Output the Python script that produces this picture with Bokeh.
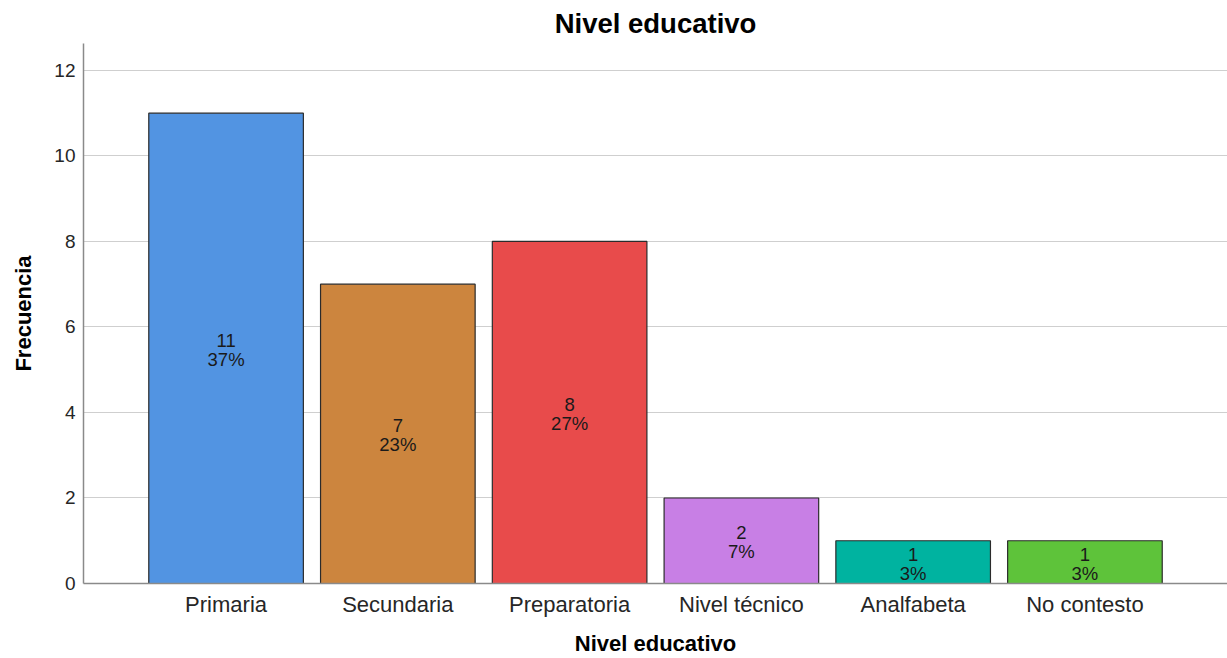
from bokeh.plotting import figure
from bokeh.models import ColumnDataSource, FactorRange, Range1d, FixedTicker
from bokeh.core.properties import value
from bokeh.embed import file_html
from bokeh.resources import INLINE

# Frequency of each education level
categories = ["Primaria", "Secundaria", "Preparatoria", "Nivel técnico", "Analfabeta", "No contesto"]
counts = [11, 7, 8, 2, 1, 1]
colors = ["#5294e2", "#cc853e", "#e84b4b", "#c87fe5", "#00b3a0", "#5ec33a"]
y_ticks = [0, 2, 4, 6, 8, 10, 12]

total = sum(counts)
pct_labels = [f"{round(100 * c / total)}%" for c in counts]
count_labels = [str(c) for c in counts]

source = ColumnDataSource(dict(
    cat=categories,
    count=counts,
    mid=[c / 2 for c in counts],
    color=colors,
    count_label=count_labels,
    pct_label=pct_labels,
))

FONT = "Liberation Sans"

p = figure(
    width=1227, height=658,
    x_range=FactorRange(factors=categories, range_padding=0.11),
    y_range=Range1d(0, 12.63),
    output_backend="svg", toolbar_location=None,
    title="Nivel educativo",
    min_border_left=83, min_border_right=0, min_border_top=42, min_border_bottom=74,
)

p.vbar(x="cat", top="count", bottom=0, width=0.9, source=source,
       fill_color="color", line_color="#2b2b2b", line_width=1.2)

# two-line value labels centred in each bar: count above, share below
p.text(x="cat", y="mid", text="count_label", source=source,
       text_align="center", text_baseline="middle", y_offset=-8,
       text_font=value(FONT), text_font_size="18.5px", text_color="#1a1a1a")
p.text(x="cat", y="mid", text="pct_label", source=source,
       text_align="center", text_baseline="middle", y_offset=11,
       text_font=value(FONT), text_font_size="18.5px", text_color="#1a1a1a")

p.title.align = "center"
p.title.text_font = FONT
p.title.text_font_size = "27.5px"
p.title.text_font_style = "bold"
p.title.text_color = "#000000"

p.outline_line_color = None
p.background_fill_color = "white"
p.border_fill_color = "white"

p.xgrid.grid_line_color = None
p.ygrid.grid_line_color = "#cfcfcf"
p.ygrid.grid_line_width = 1.2

p.yaxis.ticker = FixedTicker(ticks=y_ticks)
p.yaxis.axis_label = "Frecuencia"
p.xaxis.axis_label = "Nivel educativo"

for ax in (p.xaxis, p.yaxis):
    ax.axis_line_color = "#8a8a8a"
    ax.axis_line_width = 1.5
    ax.major_tick_line_color = None
    ax.minor_tick_line_color = None
    ax.major_tick_out = 0
    ax.major_tick_in = 0
    ax.major_label_standoff = 8
    ax.major_label_text_font = FONT
    ax.major_label_text_color = "#262626"
    ax.axis_label_text_font = FONT
    ax.axis_label_text_font_style = "bold"
    ax.axis_label_text_color = "#000000"

p.yaxis.major_label_text_font_size = "19px"
p.yaxis.axis_label_text_font_size = "22px"
p.yaxis.axis_label_standoff = 15
p.xaxis.major_label_text_font_size = "22px"
p.xaxis.axis_label_text_font_size = "22px"
p.xaxis.axis_label_standoff = 11

open("out.html", "w").write(file_html(p, INLINE))
